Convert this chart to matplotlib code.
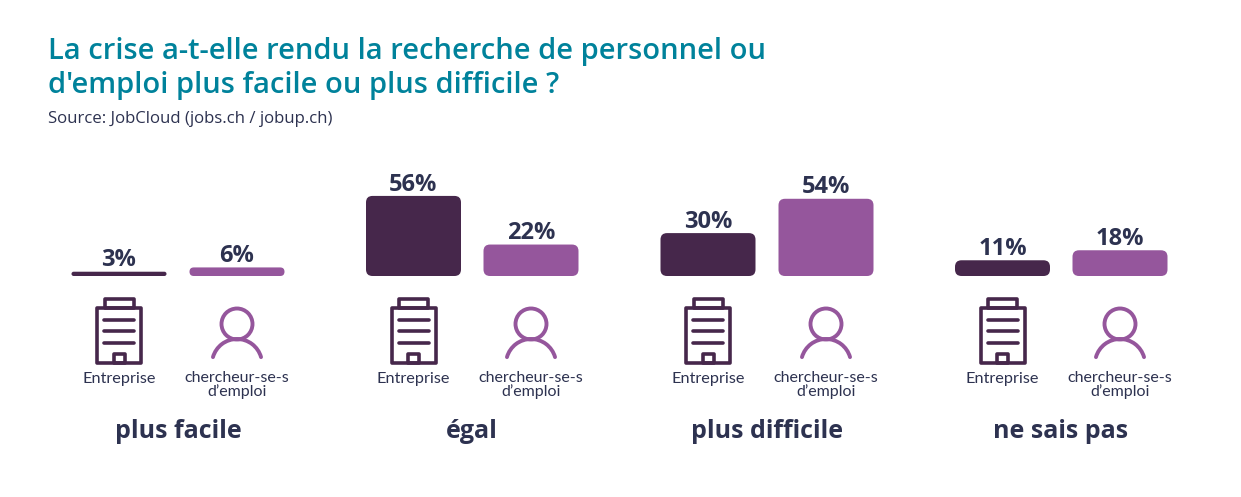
import matplotlib
matplotlib.use("Agg")
import matplotlib.pyplot as plt
from matplotlib.patches import FancyBboxPatch, Rectangle, Circle, Arc

W, H = 1241, 497
title_lines = ["La crise a-t-elle rendu la recherche de personnel ou",
               "d'emploi plus facile ou plus difficile ?"]
source = "Source: JobCloud (jobs.ch / jobup.ch)"
categories = ["plus facile", "égal", "plus difficile", "ne sais pas"]
entreprise = [3, 56, 30, 11]
chercheur = [6, 22, 54, 18]
series_label_a = "Entreprise"
series_label_b = "chercheur-se-s\nd’emploi"

DARK = "#46274B"
PURPLE = "#95569C"
TEAL = "#00829B"
INK = "#2D3250"
FONT = "Open Sans"

centers_a = [119, 413.5, 708, 1002.5]
centers_b = [237, 531, 826, 1120]
group_centers = [178, 472, 767, 1061]
BASE = 276
PX_PER_PCT = 1.43
BAR_W = 95

fig = plt.figure(figsize=(W / 100, H / 100), dpi=100, facecolor="white")

# page layer, in pixels (y measured upward)
page = fig.add_axes([0, 0, 1, 1])
page.set_xlim(0, W); page.set_ylim(0, H); page.axis("off")

# bar layer: x in pixels, y in percent
ymax = 100
ax = fig.add_axes([0, (H - BASE) / H, 1, ymax * PX_PER_PCT / H])
ax.set_xlim(0, W); ax.set_ylim(0, ymax); ax.axis("off"); ax.patch.set_alpha(0)


def rounded_bars(centers, values, color):
    bars = ax.bar(centers, values, width=BAR_W, color=color)
    for b, v in zip(bars, values):
        h_px = v * PX_PER_PCT
        r = min(6.5, h_px / 2)
        ax.add_patch(FancyBboxPatch((b.get_x(), 0), b.get_width(), v,
                                    boxstyle=f"round,pad=0,rounding_size={r}",
                                    mutation_aspect=1 / PX_PER_PCT,
                                    fc=color, ec="none"))
        b.set_visible(False)
        ax.annotate(f"{v}%", (b.get_x() + b.get_width() / 2, v),
                    xytext=(0, -0.5), textcoords="offset points",
                    ha="center", va="bottom", fontsize=17, fontweight="bold",
                    family=FONT, color=INK)


rounded_bars(centers_a, entreprise, DARK)
rounded_bars(centers_b, chercheur, PURPLE)


def Y(y):
    return H - y


def building(cx):
    lw = 2.6
    kw = dict(fill=False, ec=DARK, lw=lw, joinstyle="round")
    page.add_patch(Rectangle((cx - 22, Y(363)), 44, 55, **kw))
    page.add_patch(Rectangle((cx - 14.5, Y(308)), 29, 9, **kw))
    page.add_patch(Rectangle((cx - 5.5, Y(363)), 11, 9, **kw))
    for y in (320, 331, 343):
        page.plot([cx - 15, cx + 15], [Y(y), Y(y)], color=DARK, lw=lw,
                  solid_capstyle="round")


def person(cx):
    lw = 2.8
    page.add_patch(Circle((cx, Y(324)), 15.5, fill=False, ec=PURPLE, lw=lw))
    page.add_patch(Arc((cx, Y(364)), 50, 50, theta1=16, theta2=164,
                       ec=PURPLE, lw=lw, capstyle="round"))


for cx in centers_a:
    building(cx)
    page.text(cx, Y(379), series_label_a, ha="center", va="center",
              fontsize=11.7, family="Lato", color=INK)
for cx in centers_b:
    person(cx)
    page.text(cx, Y(385), series_label_b, ha="center", va="center",
              fontsize=11.5, family="Lato", color=INK, linespacing=0.85)
for cx, c in zip(group_centers, categories):
    page.text(cx, Y(431.5), c, ha="center", va="center", fontsize=18,
              fontweight="bold", family=FONT, color=INK)

page.text(48, Y(59), title_lines[0], ha="left", va="baseline", fontsize=21,
          fontweight="semibold", family=FONT, color=TEAL)
page.text(48, Y(93), title_lines[1], ha="left", va="baseline", fontsize=21,
          fontweight="semibold", family=FONT, color=TEAL)
page.text(48, Y(123), source, ha="left", va="baseline", fontsize=12.05,
          family=FONT, color=INK)

fig.savefig("out.png", dpi=100, facecolor="white")
